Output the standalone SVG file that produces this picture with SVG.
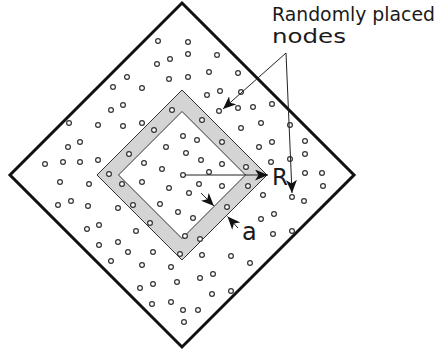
<svg xmlns="http://www.w3.org/2000/svg" width="438" height="354" viewBox="0 0 438 354">
<style>
.n{fill:#fff;stroke:#333;stroke-width:1.2}
.ln{fill:none;stroke:#222;stroke-width:1}
.lbl{font-family:"DejaVu Sans","Liberation Sans",sans-serif;fill:#1a1a1a}
</style>
<defs>
<marker id="ah" markerUnits="userSpaceOnUse" markerWidth="15" markerHeight="11" refX="13" refY="5.5" orient="auto">
<path d="M0,0 L13,5.5 L0,11 L3.5,5.5 Z" fill="#111"/>
</marker>
</defs>
<rect width="438" height="354" fill="#fff"/>
<g id="outer-region">
<polygon points="182,3 354,175 182,347 10,175" fill="#fff" stroke="#111" stroke-width="3"/>
</g>
<g id="ring">
<path d="M182,90 L267,175 L182,260 L97,175 Z M182,111.5 L118.5,175 L182,238.5 L245.5,175 Z" fill="#d4d4d4" fill-rule="evenodd" stroke="#333" stroke-width="1"/>
</g>
<g id="nodes">
<circle class="n" cx="158" cy="41" r="2.4"/><circle class="n" cx="188" cy="42" r="2.4"/><circle class="n" cx="188" cy="54" r="2.4"/><circle class="n" cx="217" cy="55" r="2.4"/><circle class="n" cx="157" cy="64" r="2.4"/><circle class="n" cx="170" cy="59" r="2.4"/><circle class="n" cx="209" cy="72" r="2.4"/><circle class="n" cx="127" cy="77" r="2.4"/><circle class="n" cx="169" cy="79" r="2.4"/><circle class="n" cx="188" cy="77" r="2.4"/><circle class="n" cx="113" cy="87" r="2.4"/><circle class="n" cx="142" cy="88" r="2.4"/><circle class="n" cx="207" cy="95" r="2.4"/><circle class="n" cx="220" cy="91" r="2.4"/><circle class="n" cx="111" cy="110" r="2.4"/><circle class="n" cx="123" cy="105" r="2.4"/><circle class="n" cx="172" cy="110" r="2.4"/><circle class="n" cx="219" cy="111" r="2.4"/><circle class="n" cx="69" cy="123" r="2.4"/><circle class="n" cx="98" cy="125" r="2.4"/><circle class="n" cx="123" cy="126" r="2.4"/><circle class="n" cx="142" cy="123" r="2.4"/><circle class="n" cx="154" cy="130" r="2.4"/><circle class="n" cx="202" cy="120" r="2.4"/><circle class="n" cx="183" cy="136" r="2.4"/><circle class="n" cx="197" cy="140" r="2.4"/><circle class="n" cx="68" cy="147" r="2.4"/><circle class="n" cx="80" cy="142" r="2.4"/><circle class="n" cx="166" cy="147" r="2.4"/><circle class="n" cx="186" cy="153" r="2.4"/><circle class="n" cx="129" cy="154" r="2.4"/><circle class="n" cx="45" cy="164" r="2.4"/><circle class="n" cx="63" cy="162" r="2.4"/><circle class="n" cx="80" cy="162" r="2.4"/><circle class="n" cx="98" cy="160" r="2.4"/><circle class="n" cx="144" cy="163" r="2.4"/><circle class="n" cx="162" cy="169" r="2.4"/><circle class="n" cx="201" cy="160" r="2.4"/><circle class="n" cx="209" cy="172" r="2.4"/><circle class="n" cx="109" cy="174" r="2.4"/><circle class="n" cx="183" cy="175" r="2.4"/>
<circle class="n" cx="238" cy="73" r="2.4"/><circle class="n" cx="241" cy="92" r="2.4"/><circle class="n" cx="238" cy="108" r="2.4"/><circle class="n" cx="253" cy="107" r="2.4"/><circle class="n" cx="272" cy="104" r="2.4"/><circle class="n" cx="241" cy="128" r="2.4"/><circle class="n" cx="261" cy="123" r="2.4"/><circle class="n" cx="290" cy="125" r="2.4"/><circle class="n" cx="222" cy="142" r="2.4"/><circle class="n" cx="259" cy="147" r="2.4"/><circle class="n" cx="272" cy="142" r="2.4"/><circle class="n" cx="305" cy="141" r="2.4"/><circle class="n" cx="305" cy="154" r="2.4"/><circle class="n" cx="290" cy="159" r="2.4"/><circle class="n" cx="222" cy="164" r="2.4"/><circle class="n" cx="246" cy="167" r="2.4"/><circle class="n" cx="271" cy="162" r="2.4"/><circle class="n" cx="305" cy="173" r="2.4"/><circle class="n" cx="322" cy="173" r="2.4"/>
<circle class="n" cx="60" cy="182" r="2.4"/><circle class="n" cx="89" cy="184" r="2.4"/><circle class="n" cx="122" cy="184" r="2.4"/><circle class="n" cx="142" cy="182" r="2.4"/><circle class="n" cx="169" cy="188" r="2.4"/><circle class="n" cx="199" cy="184" r="2.4"/><circle class="n" cx="189" cy="193" r="2.4"/><circle class="n" cx="58" cy="205" r="2.4"/><circle class="n" cx="71" cy="201" r="2.4"/><circle class="n" cx="88" cy="206" r="2.4"/><circle class="n" cx="118" cy="208" r="2.4"/><circle class="n" cx="133" cy="205" r="2.4"/><circle class="n" cx="160" cy="204" r="2.4"/><circle class="n" cx="178" cy="212" r="2.4"/><circle class="n" cx="193" cy="218" r="2.4"/><circle class="n" cx="150" cy="223" r="2.4"/><circle class="n" cx="87" cy="229" r="2.4"/><circle class="n" cx="99" cy="225" r="2.4"/><circle class="n" cx="136" cy="231" r="2.4"/><circle class="n" cx="185" cy="236" r="2.4"/><circle class="n" cx="200" cy="239" r="2.4"/><circle class="n" cx="99" cy="245" r="2.4"/><circle class="n" cx="118" cy="242" r="2.4"/><circle class="n" cx="128" cy="252" r="2.4"/><circle class="n" cx="153" cy="252" r="2.4"/><circle class="n" cx="180" cy="254" r="2.4"/><circle class="n" cx="202" cy="255" r="2.4"/><circle class="n" cx="111" cy="261" r="2.4"/><circle class="n" cx="142" cy="265" r="2.4"/><circle class="n" cx="171" cy="267" r="2.4"/><circle class="n" cx="200" cy="278" r="2.4"/><circle class="n" cx="213" cy="274" r="2.4"/><circle class="n" cx="140" cy="288" r="2.4"/><circle class="n" cx="153" cy="284" r="2.4"/><circle class="n" cx="177" cy="282" r="2.4"/><circle class="n" cx="212" cy="294" r="2.4"/><circle class="n" cx="152" cy="304" r="2.4"/><circle class="n" cx="171" cy="302" r="2.4"/><circle class="n" cx="183" cy="310" r="2.4"/><circle class="n" cx="198" cy="310" r="2.4"/><circle class="n" cx="184" cy="322" r="2.4"/>
<circle class="n" cx="222" cy="186" r="2.4"/><circle class="n" cx="248" cy="186" r="2.4"/><circle class="n" cx="263" cy="195" r="2.4"/><circle class="n" cx="292" cy="197" r="2.4"/><circle class="n" cx="304" cy="201" r="2.4"/><circle class="n" cx="323" cy="186" r="2.4"/><circle class="n" cx="227" cy="207" r="2.4"/><circle class="n" cx="261" cy="219" r="2.4"/><circle class="n" cx="274" cy="214" r="2.4"/><circle class="n" cx="273" cy="234" r="2.4"/><circle class="n" cx="292" cy="231" r="2.4"/><circle class="n" cx="231" cy="256" r="2.4"/><circle class="n" cx="250" cy="263" r="2.4"/><circle class="n" cx="231" cy="291" r="2.4"/>
</g>
<g id="connectors">
<line class="ln" x1="185" y1="175" x2="268" y2="175" stroke-width="1.6" marker-end="url(#ah)"/>
<line class="ln" x1="201" y1="193" x2="214" y2="206" stroke-width="1.3" marker-end="url(#ah)"/>
<line class="ln" x1="238" y1="228" x2="227.5" y2="216.5" stroke-width="1.3" marker-end="url(#ah)"/>
<line class="ln" x1="286" y1="53" x2="223" y2="109" marker-end="url(#ah)"/>
<line class="ln" x1="286" y1="53" x2="292" y2="193" marker-end="url(#ah)"/>
</g>
<g id="labels">
<text class="lbl" x="272" y="21" font-size="19" textLength="163" lengthAdjust="spacingAndGlyphs">Randomly placed</text>
<text class="lbl" x="272" y="43" font-size="19" textLength="74" lengthAdjust="spacingAndGlyphs">nodes</text>
<text class="lbl" x="272" y="185" font-size="23">R</text>
<text class="lbl" x="242" y="240" font-size="24">a</text>
</g>
</svg>
